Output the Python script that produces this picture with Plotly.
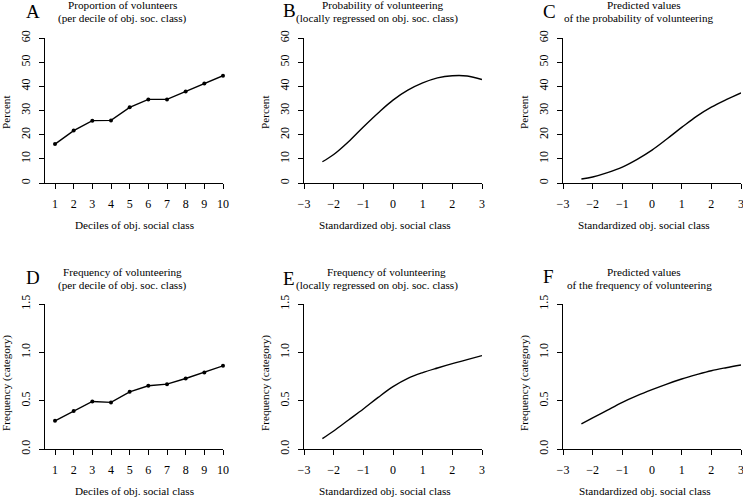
import plotly.graph_objects as go

W, H = 743, 498
FONT = "Liberation Serif"

# ---- data ----
deciles = [1, 2, 3, 4, 5, 6, 7, 8, 9, 10]
prop_volunteers = [16.1, 21.7, 25.8, 25.9, 31.3, 34.6, 34.6, 37.9, 41.2, 44.4]
freq_volunteering = [0.292, 0.392, 0.492, 0.482, 0.592, 0.654, 0.671, 0.729, 0.791, 0.860]

std_x = [-2.38, -2, -1.5, -1, -0.5, 0, 0.5, 1, 1.5, 2, 2.5, 3]
prob_loess = [8.8, 11.8, 17.1, 23.2, 29.0, 34.3, 38.4, 41.4, 43.5, 44.4, 44.3, 42.8]
prob_pred = [1.65, 2.5, 4.3, 6.6, 9.8, 13.6, 18.2, 23.0, 27.6, 31.4, 34.5, 37.3]
freq_loess = [0.107, 0.186, 0.30, 0.414, 0.534, 0.645, 0.731, 0.790, 0.838, 0.883, 0.924, 0.966]
freq_pred = [0.259, 0.321, 0.403, 0.483, 0.552, 0.614, 0.672, 0.724, 0.769, 0.810, 0.841, 0.869]

decile_ticks = [1, 2, 3, 4, 5, 6, 7, 8, 9, 10]
std_ticks = [-3, -2, -1, 0, 1, 2, 3]
pct_ticks = [0, 10, 20, 30, 40, 50, 60]
freq_ticks = [0.0, 0.5, 1.0, 1.5]
freq_ticktext = ["0.0", "0.5", "1.0", "1.5"]

letters = ["A", "B", "C", "D", "E", "F"]
titles = [
    ("Proportion of volunteers", "(per decile of obj. soc. class)"),
    ("Probability of volunteering", "(locally regressed on obj. soc. class)"),
    ("Predicted values", "of the probability of volunteering"),
    ("Frequency of volunteering", "(per decile of obj. soc. class)"),
    ("Frequency of volunteering", "(locally regressed on obj. soc. class)"),
    ("Predicted values", "of the frequency of volunteering"),
]
xlabels = ["Deciles of obj. social class", "Standardized obj. social class",
           "Standardized obj. social class"] * 2
ylabels = ["Percent"] * 3 + ["Frequency (category)"] * 3

# ---- layout geometry (pixels) ----
cols = [(45, 223), (304, 482), (563, 741)]
rows = [(38, 183), (304, 449)]
ylabel_y = [112, 383]

def px_x(p):
    return p / W

def px_y(p):
    return 1 - p / H

fig = go.Figure()

panels = [
    (deciles, prop_volunteers, True),
    (std_x, prob_loess, False),
    (std_x, prob_pred, False),
    (deciles, freq_volunteering, True),
    (std_x, freq_loess, False),
    (std_x, freq_pred, False),
]

for i, (xs, ys, markers) in enumerate(panels):
    n = "" if i == 0 else str(i + 1)
    fig.add_trace(go.Scatter(
        x=xs, y=ys, xaxis="x" + n, yaxis="y" + n,
        mode="lines+markers" if markers else "lines",
        line=dict(color="black", width=1.4, shape="linear" if markers else "spline"),
        marker=dict(color="black", size=4),
        showlegend=False, hoverinfo="skip", cliponaxis=False,
    ))

layout = dict(
    template="none",
    width=W, height=H,
    margin=dict(l=0, r=0, t=0, b=0, pad=0),
    paper_bgcolor="white", plot_bgcolor="white",
    font=dict(family=FONT, size=11, color="black"),
    showlegend=False,
)

TXT = 11.2
annotations = []
title_centers = [(122, 122), (383, 377), (644, 639), (122, 122), (387, 377), (644, 639)]
letter_pos = [(33, 11), (289, 10), (549, 11), (33, 277), (289, 278), (548, 276)]
xlabel_centers = [134, 385, 644, 134, 385, 645]

for i in range(6):
    r, c = divmod(i, 3)
    x0, x1 = cols[c]
    y0, y1 = rows[r]
    n = "" if i == 0 else str(i + 1)
    is_decile = c == 0
    is_pct = r == 0
    xa = dict(
        domain=[px_x(x0), px_x(x1)],
        anchor="y" + n,
        range=[0.464, 10] if is_decile else [-3, 3],
        tickmode="array",
        tickvals=decile_ticks if is_decile else std_ticks,
        showline=True, linecolor="black", linewidth=1,
        ticks="outside", ticklen=5, tickwidth=1, tickcolor="black",
        showgrid=False, zeroline=False, automargin=False,
        tickfont=dict(family=FONT, size=12, color="black"),
        ticklabelstandoff=5, ticklabeloverflow="allow",
        fixedrange=True,
    )
    ya = dict(
        domain=[px_y(y1), px_y(y0)],
        anchor="x" + n,
        range=[0, 60] if is_pct else [0, 1.5],
        tickmode="array",
        tickvals=pct_ticks if is_pct else freq_ticks,
        ticktext=[str(v) for v in pct_ticks] if is_pct else freq_ticktext,
        tickangle=-90,
        showline=True, linecolor="black", linewidth=1,
        ticks="outside", ticklen=5, tickwidth=1, tickcolor="black",
        showgrid=False, zeroline=False, automargin=False,
        tickfont=dict(family=FONT, size=12, color="black"),
        ticklabelstandoff=4, ticklabeloverflow="allow",
        fixedrange=True,
    )
    layout["xaxis" + n] = xa
    layout["yaxis" + n] = ya

    # panel letter
    lx, ly = letter_pos[i]
    annotations.append(dict(
        text=letters[i], x=px_x(lx), y=px_y(ly), xref="paper", yref="paper",
        xanchor="center", yanchor="middle", showarrow=False,
        font=dict(family=FONT, size=19, color="black"),
    ))
    # title lines
    base = 5 if r == 0 else 272
    t1, t2 = titles[i]
    c1, c2 = title_centers[i]
    annotations.append(dict(
        text=t1, x=px_x(c1), y=px_y(base), xref="paper", yref="paper",
        xanchor="center", yanchor="middle", showarrow=False,
        font=dict(family=FONT, size=TXT, color="black"),
    ))
    annotations.append(dict(
        text=t2, x=px_x(c2), y=px_y(base + 13), xref="paper", yref="paper",
        xanchor="center", yanchor="middle", showarrow=False,
        font=dict(family=FONT, size=TXT, color="black"),
    ))
    # x label
    annotations.append(dict(
        text=xlabels[i], x=px_x(xlabel_centers[i]), y=px_y(y1 + 42),
        xref="paper", yref="paper", xanchor="center", yanchor="middle",
        showarrow=False, font=dict(family=FONT, size=TXT, color="black"),
    ))
    # y label
    annotations.append(dict(
        text=ylabels[i], x=px_x(x0 - 39), y=px_y(ylabel_y[r]),
        xref="paper", yref="paper", xanchor="center", yanchor="middle",
        textangle=-90, showarrow=False,
        font=dict(family=FONT, size=TXT, color="black"),
    ))

layout["annotations"] = annotations
fig.update_layout(**layout)
fig.write_html(
    "out.html",
    config={"displayModeBar": False, "staticPlot": True},
    post_script="document.body.style.margin='0';document.body.style.overflow='hidden';",
)
